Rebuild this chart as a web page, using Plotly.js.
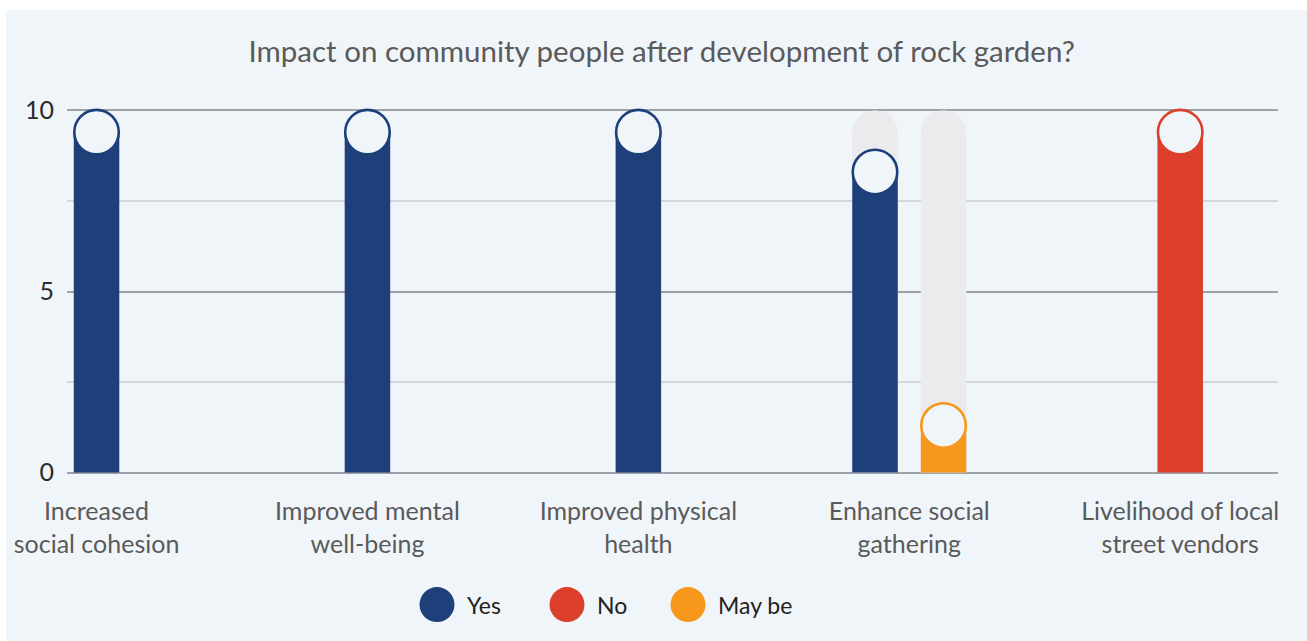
<!DOCTYPE html>
<html>
<head>
<meta charset="utf-8">
<script src="https://cdn.plot.ly/plotly-3.0.1.min.js"></script>
<style>
  html, body { margin: 0; padding: 0; background: #ffffff; }
  #chart { position: absolute; left: 6px; top: 10px; width: 1301px; height: 631px; }
</style>
</head>
<body>
<div id="chart"></div>
<script>
// ---------------- data ----------------
const categories = ["Increased social cohesion", "Improved mental well-being", "Improved physical health", "Enhance social gathering", "Livelihood of local street vendors"];
const tickLabels = ["Increased<br>social cohesion", "Improved mental<br>well-being", "Improved physical<br>health", "Enhance social<br>gathering", "Livelihood of local<br>street vendors"];
const seriesNames = ["Yes", "No", "May be"];
const yesValues = [9.4, 9.4, 9.4, 8.3, 0];
const noValues = [0, 0, 0, 0, 9.4];
const maybeValues = [0, 0, 0, 1.3, 0];
const highlightedCategory = "Enhance social gathering";
const yTickVals = [0, 5, 10];
const yTickText = ["0", "5", "10"];
const chartTitle = "Impact on community people after development of rock garden?";

// ---------------- styles ----------------
const seriesColors = ["#1d3f7a", "#dc3f2c", "#f7981d"];
const BG = "#f0f5fa";
const TRACK = "#ebebee";
const FONT = "Lato, 'Open Sans', sans-serif";
const BAR_W = 0.168;     // bar width in category units
const PITCH = 0.253;     // distance between bars inside a group
const X_RANGE = [-0.109, 4.361];
const Y_MAX = 10;
const Y_PAD = 0.04;      // tiny padding so the 0 and 10 grid lines are drawn
const Y_RANGE = [-Y_PAD, Y_MAX + Y_PAD];

const seriesValues = [yesValues, noValues, maybeValues];

// compute centred x positions of the non-empty bars in each category
const xPos = seriesValues.map(() => categories.map(() => null));
categories.forEach((c, i) => {
  const visible = seriesValues.map((v, s) => v[i] > 0 ? s : -1).filter(s => s >= 0);
  const n = visible.length;
  visible.forEach((s, k) => { xPos[s][i] = i + (k - (n - 1) / 2) * PITCH; });
});

const traces = [];

// highlight tracks
const hi = categories.indexOf(highlightedCategory);
const trackX = [];
seriesValues.forEach((v, s) => { if (xPos[s][hi] !== null) trackX.push(xPos[s][hi]); });
traces.push({
  type: "bar", x: trackX, y: trackX.map(() => Y_MAX),
  width: BAR_W, marker: { color: TRACK, cornerradius: "50%" },
  hoverinfo: "skip", showlegend: false
});

seriesValues.forEach((vals, s) => {
  const xs = [], ys = [];
  vals.forEach((v, i) => { if (xPos[s][i] !== null) { xs.push(xPos[s][i]); ys.push(v); } });
  traces.push({
    type: "bar", name: seriesNames[s], x: xs, y: ys, width: BAR_W,
    marker: { color: seriesColors[s] }, showlegend: false,
    hovertemplate: "%{y}<extra>" + seriesNames[s] + "</extra>"
  });
});
seriesValues.forEach((vals, s) => {
  const xs = [], ys = [];
  vals.forEach((v, i) => { if (xPos[s][i] !== null) { xs.push(xPos[s][i]); ys.push(v); } });
  traces.push({
    type: "scatter", mode: "markers", name: seriesNames[s], x: xs, y: ys,
    cliponaxis: false, showlegend: false, hoverinfo: "skip",
    marker: { size: 44.5, color: BG, line: { color: seriesColors[s], width: 2.6 } }
  });
});

// custom legend (large dots)
const L = 61, R = 29, T = 98.6, B = 166.8, W = 1301, H = 631;
const pw = W - L - R, ph = H - T - B;
const legendCentersPx = [431, 561, 682];   // div px
const legendYpx = 595;
const shapes = [], annotations = [];
seriesNames.forEach((nm, s) => {
  const px = (legendCentersPx[s] - L) / pw;
  const py = (H - B - legendYpx) / ph;
  shapes.push({
    type: "circle", xref: "paper", yref: "paper", xsizemode: "pixel", ysizemode: "pixel",
    xanchor: px, yanchor: py, x0: -17.5, x1: 17.5, y0: -17.5, y1: 17.5,
    fillcolor: seriesColors[s], line: { width: 0 }
  });
  annotations.push({
    xref: "paper", yref: "paper", x: px, y: py, xshift: 28, xanchor: "left", yanchor: "middle",
    text: nm, showarrow: false, font: { family: FONT, size: 23, color: "#222222" }
  });
});

const layout = {
  width: W, height: H,
  paper_bgcolor: BG, plot_bgcolor: BG,
  margin: { l: L, r: R, t: T, b: B, pad: 0 },
  barmode: "overlay",
  title: { text: chartTitle, x: 0.504, xanchor: "center", y: 1 - 42 / H, yanchor: "middle",
           font: { family: FONT, size: 29.5, color: "#5a5a5a" } },
  xaxis: {
    type: "linear", range: X_RANGE, tickmode: "array",
    tickvals: categories.map((c, i) => i), ticktext: tickLabels,
    showgrid: false, zeroline: false, showline: false, ticks: "",
    tickfont: { family: FONT, size: 25, color: "#5a5a5a" }, ticklabelstandoff: 20,
    fixedrange: true
  },
  yaxis: {
    range: Y_RANGE, tickmode: "array", tickvals: yTickVals, ticktext: yTickText,
    showgrid: true, gridcolor: "#9ea2a8", gridwidth: 1.5, zeroline: false, showline: false, ticks: "",
    minor: { tickmode: "linear", tick0: 0, dtick: 2.5, showgrid: true, gridcolor: "#d3d6db", gridwidth: 1.5 },
    tickfont: { family: FONT, size: 25, color: "#2a2a2a" }, ticklabelstandoff: 12,
    fixedrange: true
  },
  shapes: shapes, annotations: annotations,
  showlegend: false, hovermode: "closest"
};

Plotly.newPlot("chart", traces, layout, { displayModeBar: false, staticPlot: false });
</script>
</body>
</html>
